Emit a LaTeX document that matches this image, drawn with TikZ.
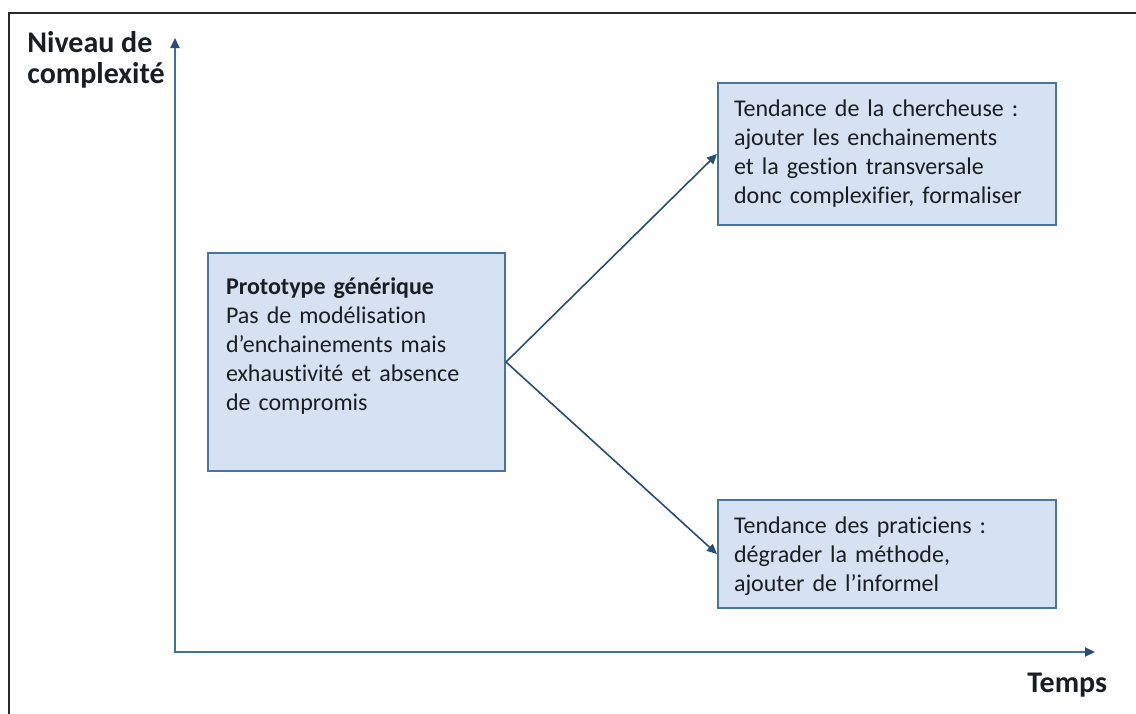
\documentclass[tikz,border=0pt]{standalone}
\usepackage{fontspec}
\setmainfont{Carlito}[Ligatures=NoCommon]
\usepackage{tikz}
\usetikzlibrary{arrows.meta,positioning}
\definecolor{bleuAxe}{RGB}{62,112,160}
\definecolor{bleuFleche}{RGB}{38,78,120}
\definecolor{bleuBord}{RGB}{72,116,160}
\definecolor{bleuFond}{RGB}{214,225,241}
\definecolor{grisCadre}{RGB}{40,40,40}
\definecolor{texteFonce}{RGB}{25,30,35}

\begin{document}
\begin{tikzpicture}[x=0.5pt,y=-0.5pt,
  font={\fontsize{12}{14.5}\selectfont},text=texteFonce,
  boite/.style={rectangle,anchor=north west,draw=bleuBord,fill=bleuFond,line width=1pt,
                align=left,inner ysep=0pt},
  titre/.style={inner sep=0pt,font={\fontsize{15}{15.5}\selectfont\bfseries}},
  axe/.style={draw=bleuAxe,line width=1pt,
              {Triangle[length=5pt,width=4.5pt,color=bleuFleche]}-{Triangle[length=5pt,width=4.5pt,color=bleuFleche]}},
  tendance/.style={draw=bleuFleche,line width=0.8pt,-{Triangle[length=5pt,width=4.5pt]}}]

  \useasboundingbox (0,0) rectangle (1136,713);
  \draw[grisCadre,line width=1pt] (1140,13) -- (9,13) -- (9,717);

  \coordinate (ytop) at (175,38);
  \coordinate (xend) at (1095,652);
  \draw[axe] (ytop) |- (xend);

  \node[titre,anchor=base west,align=left] (ylabel) at (27,83) {Niveau de\\complexité};
  \node[titre,anchor=base west] (xlabel) at (1027,692) {Temps};

  \node[boite,inner xsep=9pt,text width=130.5pt,text height=20.5pt,text depth=88.5pt]
    (proto) at (207,252)
    {\textbf{Prototype générique}\\Pas de modélisation\\d’enchainements mais\\exhaustivité et absence\\de compromis};
  \node[boite,inner xsep=8pt,text width=153pt,text height=16.5pt,text depth=54.5pt]
    (chercheuse) at (717,82)
    {Tendance de la chercheuse :\\ajouter les enchainements\\et la gestion transversale\\donc complexifier, formaliser};
  \node[boite,inner xsep=8pt,text width=153pt,text height=16.5pt,text depth=37.5pt]
    (praticiens) at (717,499)
    {Tendance des praticiens :\\dégrader la méthode,\\ajouter de l’informel};

  \draw[tendance] (proto.east) -- (chercheuse.west);
  \draw[tendance] (proto.east) -- (praticiens.west);
\end{tikzpicture}
\end{document}
